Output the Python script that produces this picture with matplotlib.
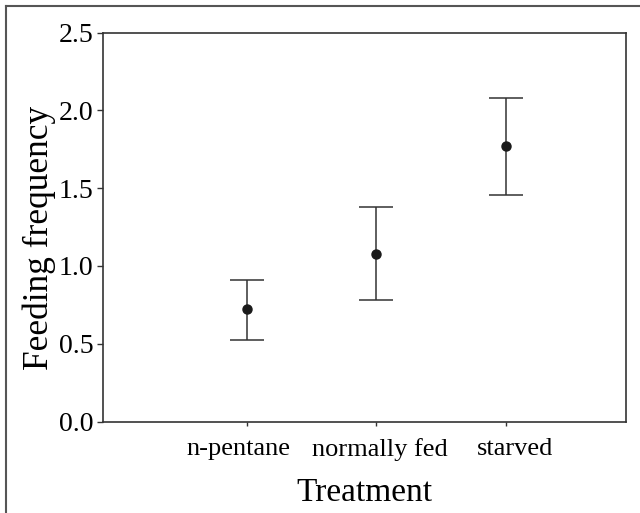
import matplotlib
matplotlib.use("Agg")
import matplotlib.pyplot as plt
from matplotlib.lines import Line2D
from matplotlib.transforms import ScaledTranslation

categories = ["n-pentane", "normally fed", "starved"]
means = [0.726, 1.078, 1.769]
upper = [0.913, 1.382, 2.078]
lower = [0.527, 0.784, 1.459]

plt.rcParams['font.family'] = ['Liberation Serif', 'DejaVu Serif']

fig = plt.figure(figsize=(6.4, 5.13), dpi=100)
ax = fig.add_axes([103/640, 1-421.5/513, (626-103)/640, (421.5-32.7)/513])

x = list(range(len(categories)))
yerr = [[m - l for m, l in zip(means, lower)], [u - m for m, u in zip(means, upper)]]
ax.errorbar(x, means, yerr=yerr, fmt='o', color='#1a1a1a', ecolor='#333333',
            elinewidth=1.1, capsize=12, capthick=1.1, markersize=6.5)

ax.set_xlim(-1.11, 2.93)
ax.set_ylim(0, 2.5)
ax.set_yticks([0, 0.5, 1.0, 1.5, 2.0, 2.5])
ax.set_yticklabels(["0.0", "0.5", "1.0", "1.5", "2.0", "2.5"])
ax.set_xticks(x)
ax.set_xticklabels(categories)
ax.tick_params(axis='y', labelsize=20, length=4, width=1, color='#333333', pad=3)
ax.tick_params(axis='x', labelsize=19, length=3, width=1, color='#333333', pad=9)
for lbl, dx in zip(ax.get_xticklabels(), [-8, 4, 9]):
    lbl.set_transform(lbl.get_transform() + ScaledTranslation(dx / 100, 0, fig.dpi_scale_trans))
for s in ax.spines.values():
    s.set_color('#333333')
    s.set_linewidth(1.2)
ax.set_xlabel("Treatment", fontsize=24, labelpad=12)
ax.set_ylabel("Feeding frequency", fontsize=25.5)
ax.yaxis.set_label_coords(-0.09, 0.473)

fig.add_artist(Line2D([5.5/640, 5.5/640], [0, 1-5.5/513], transform=fig.transFigure,
                      color='#555555', linewidth=1.5))
fig.add_artist(Line2D([5.5/640, 1], [1-5.5/513, 1-5.5/513], transform=fig.transFigure,
                      color='#555555', linewidth=1.5))

fig.savefig("out.png", dpi=100)
